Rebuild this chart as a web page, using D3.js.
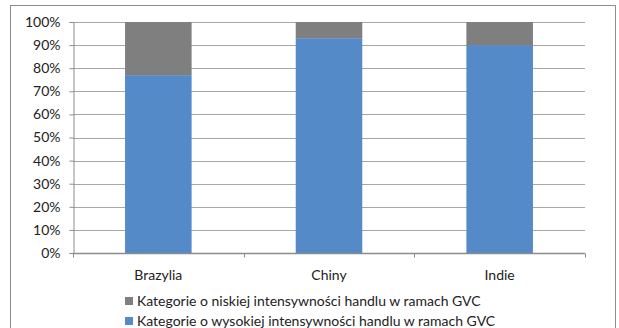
<!DOCTYPE html>
<html><head><meta charset="utf-8">
<script src="https://cdn.jsdelivr.net/npm/d3@7"></script>
<style>body{margin:0;background:#fff}svg{display:block}text{font-family:Lato,"Open Sans",sans-serif;fill:#222}</style>
</head><body>
<script>
// Udział kategorii handlu w ramach GVC
const countries = ["Brazylia", "Chiny", "Indie"];
const highShare = [0.77, 0.93, 0.90];
const lowShare = [0.23, 0.07, 0.10];
const seriesNames = ["Kategorie o niskiej intensywności handlu w ramach GVC",
                     "Kategorie o wysokiej intensywności handlu w ramach GVC"];
const yTicks = [0, 0.1, 0.2, 0.3, 0.4, 0.5, 0.6, 0.7, 0.8, 0.9, 1.0];
const colors = {low: "#7f7f7f", high: "#558ac9"};

const W = 619, H = 328;
const m = {left: 73, right: 34, top: 22, bottom: 75};
const FS = 14;
const svg = d3.select("body").append("svg").attr("width", W).attr("height", H);

svg.append("rect").attr("x", 10.5).attr("y", 5.5).attr("width", 605).attr("height", 330)
  .attr("fill", "#fff").attr("stroke", "#8c8c8c").attr("stroke-width", 1);

const x = d3.scaleBand().domain(countries).range([m.left, W - m.right]).paddingInner(0.61).paddingOuter(0.305);
const y = d3.scaleLinear().domain([0, 1]).range([H - m.bottom, m.top]);

// gridlines
svg.append("g").selectAll("line").data(yTicks.slice(1)).join("line")
  .attr("x1", m.left).attr("x2", W - m.right)
  .attr("y1", d => Math.round(y(d)) + 0.5).attr("y2", d => Math.round(y(d)) + 0.5)
  .attr("stroke", "#a6a6a6");

// stacked bars
const rows = countries.map((c, i) => ({c, high: highShare[i], low: lowShare[i]}));
const stack = d3.stack().keys(["high", "low"])(rows);
svg.append("g").selectAll("g").data(stack).join("g")
  .attr("fill", d => colors[d.key])
  .selectAll("rect").data(d => d).join("rect")
  .attr("x", d => x(d.data.c)).attr("width", x.bandwidth())
  .attr("y", d => y(d[1])).attr("height", d => y(d[0]) - y(d[1]));

// y axis
const yAxis = svg.append("g").attr("transform", `translate(${m.left + 0.5},0)`)
  .call(d3.axisLeft(y).tickValues(yTicks).tickFormat(d3.format(".0%")).tickSize(4).tickPadding(9));
yAxis.select(".domain").attr("stroke", "#8c8c8c");
yAxis.selectAll(".tick line").attr("stroke", "#8c8c8c");
yAxis.selectAll("text").attr("font-size", FS).attr("font-family", "Lato").attr("fill", "#222");

// x axis with ticks at category boundaries
const xg = svg.append("g").attr("transform", `translate(0,${y(0) + 0.5})`);
xg.append("line").attr("x1", m.left).attr("x2", W - m.right).attr("stroke", "#8c8c8c").attr("stroke-width", 1.5);
const bounds = d3.range(countries.length + 1).map(i => m.left + i * (W - m.left - m.right) / countries.length);
xg.selectAll(".b").data(bounds).join("line").attr("class", "b")
  .attr("x1", d => Math.round(d) + 0.5).attr("x2", d => Math.round(d) + 0.5)
  .attr("y1", 0).attr("y2", 4).attr("stroke", "#8c8c8c");
xg.selectAll("text").data(countries).join("text")
  .attr("x", d => x(d) + x.bandwidth() / 2).attr("y", 26)
  .attr("text-anchor", "middle").attr("font-size", FS).text(d => d);

// legend
const leg = svg.append("g").attr("transform", "translate(125,0)");
const legItems = [{n: seriesNames[0], c: colors.low, y: 301}, {n: seriesNames[1], c: colors.high, y: 321}];
leg.selectAll("rect").data(legItems).join("rect")
  .attr("x", 0).attr("y", d => d.y - 4).attr("width", 8).attr("height", 8).attr("fill", d => d.c);
leg.selectAll("text").data(legItems).join("text")
  .attr("x", 12).attr("y", d => d.y + 5).attr("font-size", FS).text(d => d.n);
</script>
</body></html>
